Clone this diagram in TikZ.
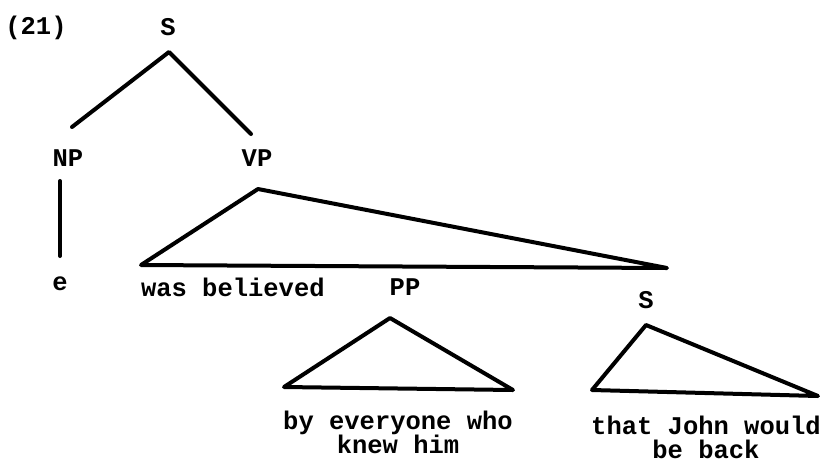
\documentclass[tikz,border=0pt]{standalone}
\usepackage{fontspec}
\setmonofont{Liberation Mono}
\usetikzlibrary{positioning}

\begin{document}
\begin{tikzpicture}[x=1pt, y=-1pt, font=\fontsize{25.5}{24}\selectfont\ttfamily\bfseries,
    line width=4pt, line cap=round, line join=round,
    cat/.style={inner sep=1pt},
    words/.style={inner sep=1pt, align=center}]
        \useasboundingbox (0,0) rectangle (824,467);
        % Number
        \node[cat] (num) at (36,28) {(21)};
        % Top S
        \node[cat] (s) at (168,27) {S};
        \coordinate (s-top) at (169,52);
        \coordinate (np-top) at (72,127);
        \coordinate (vp-top) at (251,134);
        \draw (np-top) -- (s-top) -- (vp-top);
        \node[cat] (np) at (68,158) {NP};
        \node[cat] (vp) at (257,158) {VP};
        % NP branch
        \coordinate (np-a) at (60,181);
        \coordinate (np-b) at (60,256);
        \draw (np-a) -- (np-b);
        \node[cat] (e) at (60,284) {e};
        % VP triangle
        \coordinate (vp-apex) at (258,189);
        \coordinate (vp-left) at (141,265);
        \coordinate (vp-right) at (667,268);
        \draw (vp-apex) -- (vp-left) -- (vp-right) -- cycle;
        \node[words, anchor=west] (was) at (138,287) {was believed};
        \node[cat] (pp) at (405,287) {PP};
        \node[cat] (s2) at (646,300) {S};
        % PP triangle
        \coordinate (pp-apex) at (390,318);
        \coordinate (pp-left) at (284,387);
        \coordinate (pp-right) at (513,390);
        \draw (pp-apex) -- (pp-left) -- (pp-right) -- cycle;
        \node[words] (by) at (398,432) {by everyone who\\knew him};
        % S triangle
        \coordinate (s2-apex) at (646,325);
        \coordinate (s2-left) at (592,390);
        \coordinate (s2-right) at (818,396);
        \draw (s2-apex) -- (s2-left) -- (s2-right) -- cycle;
        \node[words] (that) at (706,437) {that John would\\be back};
\end{tikzpicture}
\end{document}
